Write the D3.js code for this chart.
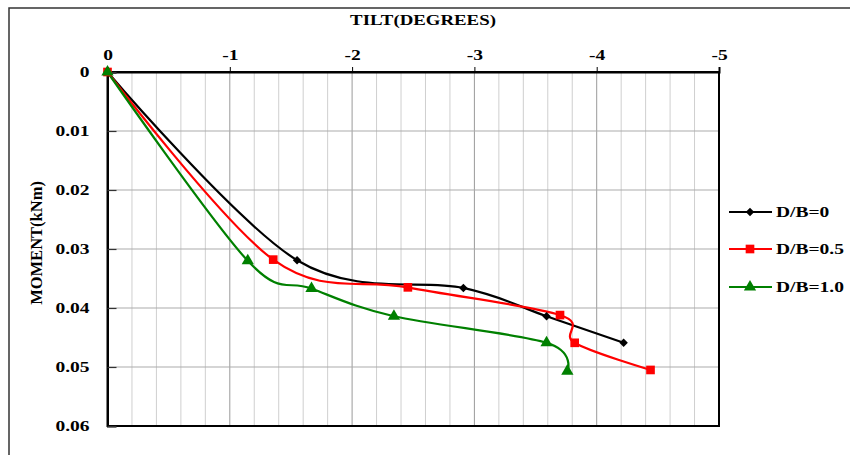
<!DOCTYPE html>
<html>
<head>
<meta charset="utf-8">
<script src="https://cdn.jsdelivr.net/npm/d3@7"></script>
<style>
  html, body { margin: 0; padding: 0; background: #fff; }
  svg { display: block; }
  text { font-family: "Liberation Serif", "Times New Roman", serif; font-weight: bold; fill: #000; }
</style>
</head>
<body>
<svg id="chart" width="850" height="455"></svg>
<script>
// Tilt (degrees) and moment (kNm) readings for each embedment ratio
const tiltD0   = [0, -1.55, -2.91, -3.59, -4.22];
const momentD0 = [0, 0.0319, 0.0366, 0.0414, 0.0459];

const tiltD05   = [0, -1.355, -2.456, -3.70, -3.82, -4.44];
const momentD05 = [0, 0.0318, 0.0365, 0.0412, 0.0459, 0.0505];

const tiltD10   = [0, -1.147, -1.668, -2.342, -3.59, -3.76];
const momentD10 = [0, 0.0320, 0.0367, 0.0414, 0.0459, 0.0507];

const seriesNames = ["D/B=0", "D/B=0.5", "D/B=1.0"];
const seriesColors = ["#000000", "#ff0000", "#008000"];
const seriesSymbols = [d3.symbolSquare, d3.symbolSquare, d3.symbolTriangle];
const symbolSizes = [36, 75, 65];
const symbolRotations = [45, 0, 0];

const xTicks = [0, -1, -2, -3, -4, -5];
const xTickLabels = ["0", "-1", "-2", "-3", "-4", "-5"];
const yTicks = [0, 0.01, 0.02, 0.03, 0.04, 0.05, 0.06];
const yTickLabels = ["0", "0.01", "0.02", "0.03", "0.04", "0.05", "0.06"];

const xTitle = "TILT(DEGREES)";
const yTitle = "MOMENT(kNm)";

const svg = d3.select("#chart");
const stretch = 1.3;

// outer chart frame
svg.append("path")
  .attr("d", "M9,460 L9,8 L860,8")
  .attr("fill", "none").attr("stroke", "#333").attr("stroke-width", 1.5);

const plotL = 107.5, plotR = 719, plotT = 72, plotB = 426;
const x = d3.scaleLinear().domain([0, -5]).range([plotL, plotR]);
const y = d3.scaleLinear().domain([0, 0.06]).range([plotT, plotB]);

// gridlines
const grid = svg.append("g");
const minor = d3.range(0, 26).map(i => -i * 0.2);
grid.selectAll("line.v").data(minor).join("line")
  .attr("x1", d => x(d)).attr("x2", d => x(d))
  .attr("y1", plotT).attr("y2", plotB)
  .attr("stroke", (d, i) => i % 5 === 0 ? "#9a9a9a" : "#cfcfcf")
  .attr("stroke-width", 1);
grid.selectAll("line.h").data(yTicks).join("line")
  .attr("x1", plotL).attr("x2", plotR)
  .attr("y1", d => y(d)).attr("y2", d => y(d))
  .attr("stroke", "#ababab").attr("stroke-width", 1);

// plot frame
svg.append("rect")
  .attr("x", plotL).attr("y", plotT)
  .attr("width", plotR - plotL).attr("height", plotB - plotT)
  .attr("fill", "none").attr("stroke", "#000").attr("stroke-width", 2);

// top axis
const xAxis = svg.append("g")
  .attr("transform", `translate(0,${plotT})`)
  .call(d3.axisTop(x).tickValues(xTicks).tickSize(5).tickPadding(7)
    .tickFormat((d, i) => xTickLabels[i]));
xAxis.select(".domain").attr("stroke", "#000").attr("stroke-width", 2);
xAxis.selectAll(".tick line").attr("stroke", "#000");
xAxis.selectAll(".tick text")
  .attr("font-size", 15).attr("font-family", null)
  .attr("transform", `scale(${stretch},1)`);

// left axis
const yAxis = svg.append("g")
  .attr("transform", `translate(${plotL},0)`)
  .call(d3.axisLeft(y).tickValues(yTicks).tickSize(-9).tickPadding(0)
    .tickFormat((d, i) => yTickLabels[i]));
yAxis.select(".domain").attr("stroke", "#000").attr("stroke-width", 2);
yAxis.selectAll(".tick line").attr("stroke", "#333").attr("stroke-width", 1.2);
yAxis.selectAll(".tick text")
  .attr("font-size", 15).attr("font-family", null)
  .attr("x", -18 / stretch)
  .attr("transform", `scale(${stretch},1)`);

// axis titles
svg.append("text")
  .attr("transform", `translate(423,25) scale(${stretch},1)`)
  .attr("text-anchor", "middle").attr("font-size", 14.5)
  .text(xTitle);
svg.append("text")
  .attr("transform", "translate(42,243) rotate(-90)")
  .attr("text-anchor", "middle").attr("font-size", 16.5)
  .text(yTitle);

// series
const series = [
  tiltD0.map((t, i) => [t, momentD0[i]]),
  tiltD05.map((t, i) => [t, momentD05[i]]),
  tiltD10.map((t, i) => [t, momentD10[i]])
];
const line = d3.line().x(d => x(d[0])).y(d => y(d[1])).curve(d3.curveCardinal.tension(0));

const plot = svg.append("g");
series.forEach((pts, s) => {
  plot.append("path")
    .attr("d", line(pts))
    .attr("fill", "none").attr("stroke", seriesColors[s]).attr("stroke-width", 2.2);
});
series.forEach((pts, s) => {
  plot.selectAll(null).data(pts).join("path")
    .attr("transform", d => `translate(${x(d[0])},${y(d[1])}) rotate(${symbolRotations[s]})`)
    .attr("d", d3.symbol().type(seriesSymbols[s]).size(symbolSizes[s]))
    .attr("fill", seriesColors[s]);
});

// legend
const legendY = [212, 249, 287];
const legend = svg.append("g");
seriesNames.forEach((name, s) => {
  legend.append("line")
    .attr("x1", 729).attr("x2", 772)
    .attr("y1", legendY[s]).attr("y2", legendY[s])
    .attr("stroke", seriesColors[s]).attr("stroke-width", 2.2);
  legend.append("path")
    .attr("transform", `translate(750,${legendY[s]}) rotate(${symbolRotations[s]})`)
    .attr("d", d3.symbol().type(seriesSymbols[s]).size(symbolSizes[s]))
    .attr("fill", seriesColors[s]);
  legend.append("text")
    .attr("transform", `translate(776,${legendY[s] + 5}) scale(${stretch},1)`)
    .attr("font-size", 15)
    .text(name);
});
</script>
</body>
</html>
